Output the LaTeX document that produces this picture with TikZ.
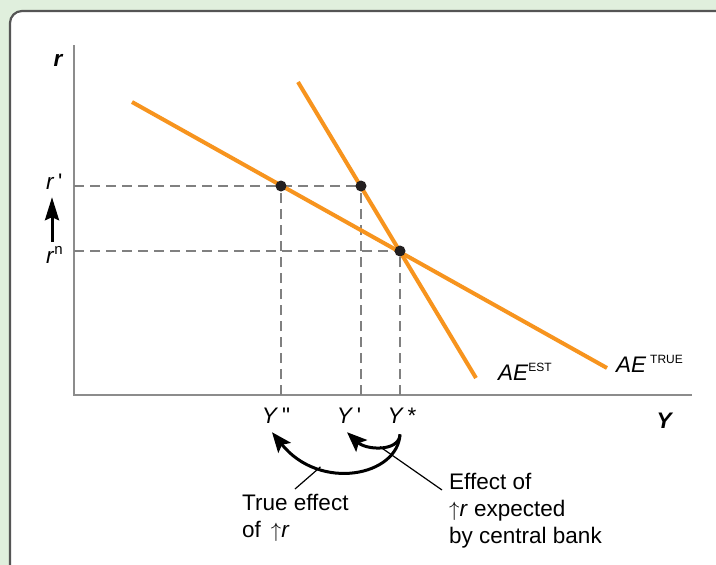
\documentclass[tikz,border=0pt]{standalone}
\usepackage{fontspec}
\setmainfont{Liberation Sans}
\usetikzlibrary{arrows.meta, positioning, calc}
\definecolor{aeorange}{RGB}{247,148,30}
\definecolor{boxgreen}{RGB}{224,239,221}
\definecolor{boxedge}{RGB}{85,85,85}
\definecolor{axisgray}{RGB}{140,140,140}
\definecolor{guidegray}{RGB}{128,128,128}
\definecolor{dotblack}{RGB}{35,31,32}
\newcommand{\supsc}[2][12]{\raisebox{0.4em}{\fontsize{#1}{#1}\selectfont #2}}
\tikzset{
  axisline/.style={line width=2.5pt, draw=axisgray},
  aeline/.style={line width=4pt, draw=aeorange},
  guide/.style={line width=1.8pt, draw=guidegray, dash pattern=on 10pt off 6pt},
  eqdot/.style={circle, fill=dotblack, inner sep=0pt, minimum size=11pt},
  lab/.style={font=\fontsize{22.5}{27}\selectfont, inner sep=0pt},
  axlab/.style={font=\fontsize{22.5}{27}\selectfont\bfseries\itshape, inner sep=0pt},
  note/.style={font=\fontsize{22.5}{27}\selectfont, align=left, inner sep=0pt},
  effarrow/.style={-{Stealth[length=20pt, width=16pt, inset=4pt]}, line width=3pt},
  risearrow/.style={-{Stealth[length=23pt, width=14pt, inset=3pt]}, line width=3pt},
  leader/.style={line width=1.2pt}
}

\begin{document}
\begin{tikzpicture}[x=1pt, y=-1pt]

\fill[boxgreen] (0,0) rectangle (716,565);
\useasboundingbox (0,0) rectangle (716,565);
\draw[boxedge, line width=2.2pt, fill=white, rounded corners=12pt] (10,11) rectangle (740,590);

% axes
\coordinate (O) at (74,395);
\coordinate (ytop) at (74,45);
\coordinate (xend) at (692,395);
\draw[axisline] (ytop) -- (O) -- (xend);

% equilibrium points
\coordinate (Ptrue) at (281,186);
\coordinate (Pest) at (361,186);
\coordinate (Pstar) at (400,251);

\foreach \p in {Ptrue, Pest, Pstar}
  \draw[guide] (\p |- O) -- (\p);
\foreach \p in {Pest, Pstar}
  \draw[guide] (\p -| O) -- (\p);

% AE curves
\coordinate (true0) at (132,102);
\coordinate (true1) at (607,368);
\coordinate (est0) at (298,82);
\coordinate (est1) at (476,378);
\draw[aeline] (true0) -- (true1);
\draw[aeline] (est0) -- (est1);

\node[eqdot] (Etrue) at (Ptrue) {};
\node[eqdot] (Eest) at (Pest) {};
\node[eqdot] (Estar) at (Pstar) {};

% axis labels
\node[axlab] (rlab) at (58,60) {r};
\node[axlab] (ylab) at (664,421) {Y};
\node[lab, anchor=base west] (rprime) at (46,189) {\textit{r}\,\textquotesingle};
\node[lab, anchor=base west] (rn) at (46,263) {\textit{r}\supsc[15]{n}};
\draw[risearrow] ([xshift=6pt, yshift=4pt]rn.north west) -- ([xshift=6pt, yshift=-8pt]rprime.south west);

\node[lab, anchor=base] (Ydd) at (276,423) {\textit{Y}\,\textquotedbl};
\node[lab, anchor=base] (Yd) at (349,423) {\textit{Y}\,\textquotesingle};
\node[lab, anchor=base] (Ystar) at (402,423) {\textit{Y}\,*};

\node[lab, anchor=base west] (aeest) at (498,380) {\textit{AE}\supsc{EST}};
\node[lab, anchor=base west] (aetrue) at (616,372) {\textit{AE}\,\supsc{TRUE}};

% effects of the rate rise
\draw[effarrow] ([xshift=-2pt, yshift=-11pt]Ystar.south)
  .. controls (398,476) and (320,492) .. coordinate[pos=0.7] (bigpt)
  ([xshift=-4pt, yshift=-9pt]Ydd.south);
\draw[effarrow] ([xshift=-2pt, yshift=-12pt]Ystar.south)
  .. controls (398,452) and (366,450) .. coordinate[pos=0.5] (smallpt)
  ([xshift=-2pt, yshift=-9pt]Yd.south);

\node[note, anchor=north west] (truenote) at (242,494) {True effect\\of \,$\uparrow$\textit{r}};
\node[note, anchor=north west] (estnote) at (449,473) {Effect of\\$\uparrow$\textit{r} expected\\by central bank};
\draw[leader] (bigpt) -- ($(truenote.north west)+(53,-5)$);
\draw[leader] (smallpt) -- ($(estnote.north west)+(-7,17)$);

\end{tikzpicture}
\end{document}
